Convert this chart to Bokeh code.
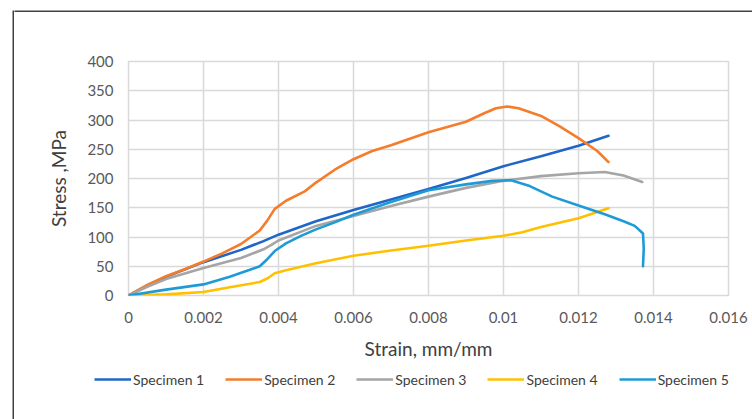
from bokeh.plotting import figure
from bokeh.models import (FixedTicker, CustomJSTickFormatter, Legend, LegendItem, Range1d,
                          Spacer)
from bokeh.layouts import column, row
from bokeh.embed import file_html
from bokeh.resources import INLINE

# ---- data ----
strain1 = [0, 0.0005, 0.001, 0.002, 0.003, 0.0036, 0.004, 0.005, 0.006, 0.007, 0.008,
           0.009, 0.01, 0.011, 0.012, 0.0128]
stress1 = [0, 17, 32, 57, 78, 93, 104, 127, 146, 164, 182, 201, 221, 238, 256, 273]

strain2 = [0, 0.0005, 0.001, 0.0015, 0.002, 0.0025, 0.003, 0.0035, 0.0037, 0.0039,
           0.0042, 0.0047, 0.005, 0.0055, 0.006, 0.0065, 0.007, 0.008, 0.009, 0.0095,
           0.0098, 0.0101, 0.0104, 0.011, 0.0115, 0.012, 0.0125, 0.0128]
stress2 = [0, 18, 33, 45, 58, 72, 88, 111, 128, 148, 162, 178, 193, 215, 233, 247,
           257, 279, 297, 312, 320, 323, 320, 307, 289, 269, 247, 228]

strain3 = [0, 0.0005, 0.001, 0.002, 0.003, 0.0036, 0.0038, 0.004, 0.005, 0.006, 0.007,
           0.008, 0.009, 0.01, 0.011, 0.012, 0.0127, 0.0132, 0.0137]
stress3 = [0, 15, 28, 47, 64, 79, 86, 94, 119, 136, 153, 169, 184, 196, 204, 209, 211,
           205, 194]

strain4 = [0, 0.001, 0.002, 0.0027, 0.0035, 0.0037, 0.0039, 0.0042, 0.005, 0.006, 0.007,
           0.008, 0.009, 0.01, 0.0105, 0.011, 0.012, 0.0128]
stress4 = [0, 2, 6, 14, 23, 29, 38, 43, 55, 68, 77, 85, 94, 102, 108, 117, 132, 149]

strain5 = [0, 0.001, 0.002, 0.0027, 0.0035, 0.0037, 0.0039, 0.0042, 0.0046, 0.005,
           0.0055, 0.006, 0.007, 0.008, 0.009, 0.0097, 0.0102, 0.0107, 0.0113, 0.012,
           0.0127, 0.0132, 0.0135, 0.01372, 0.01374, 0.01372]
stress5 = [0, 10, 19, 32, 50, 62, 76, 89, 102, 113, 125, 138, 160, 180, 190, 196, 197,
           187, 169, 154, 139, 127, 119, 106, 80, 50]

series_names = ["Specimen 1", "Specimen 2", "Specimen 3", "Specimen 4", "Specimen 5"]
series_colors = ["#1F66C8", "#F57C2A", "#A5A5A5", "#FFC000", "#1E9BD7"]

x_ticks = [0, 0.002, 0.004, 0.006, 0.008, 0.01, 0.012, 0.014, 0.016]
y_ticks = [0, 50, 100, 150, 200, 250, 300, 350, 400]

FONT = "Lato"
FRAME_COLOR = "#404040"


def band(w, h, top_white=0, **kw):
    """Plain figure: white border of top_white px above a dark frame (outer chart border)."""
    s = figure(width=w, height=h, output_backend="svg", toolbar_location=None,
               title=None, x_axis_type=None, y_axis_type=None, min_border=0,
               min_border_top=top_white, frame_align=False, **kw)
    s.background_fill_color = FRAME_COLOR
    s.border_fill_color = "white"
    s.outline_line_color = None
    s.grid.visible = False
    return s


# ---- main chart ----
p = figure(width=738, height=350, output_backend="svg", toolbar_location=None,
           x_range=Range1d(0, 0.016), y_range=Range1d(0, 400), frame_align=False,
           min_border_left=114, min_border_right=24, min_border_top=49,
           min_border_bottom=67)
p.background_fill_color = "white"
p.border_fill_color = "white"
p.outline_line_color = "#D9D9D9"
p.outline_line_width = 1.5

for ax in (p.xaxis[0], p.yaxis[0]):
    ax.axis_line_color = None
    ax.major_tick_line_color = None
    ax.minor_tick_line_color = None
    ax.major_tick_out = 0
    ax.major_tick_in = 0
    ax.minor_tick_out = 0
    ax.minor_tick_in = 0
    ax.major_label_text_font = FONT
    ax.major_label_text_font_size = "15px"
    ax.major_label_text_color = "#595959"
    ax.axis_label_text_font = FONT
    ax.axis_label_text_font_size = "19px"
    ax.axis_label_text_font_style = "normal"
    ax.axis_label_text_color = "#404040"

p.xaxis.ticker = FixedTicker(ticks=x_ticks)
p.yaxis.ticker = FixedTicker(ticks=y_ticks)
p.xaxis.formatter = CustomJSTickFormatter(code="return String(Number(tick.toFixed(3)));")
p.xaxis.axis_label = "Strain, mm/mm"
p.yaxis.axis_label = "Stress ,MPa"
p.xaxis.major_label_standoff = 16
p.yaxis.major_label_standoff = 15
p.xaxis.axis_label_standoff = 11
p.yaxis.axis_label_standoff = 14

p.xgrid.grid_line_color = "#D9D9D9"
p.ygrid.grid_line_color = "#D9D9D9"
p.xgrid.grid_line_width = 1.5
p.ygrid.grid_line_width = 1.5

xs = [strain1, strain2, strain3, strain4, strain5]
ys = [stress1, stress2, stress3, stress4, stress5]
for x, y, c in zip(xs, ys, series_colors):
    p.line(x, y, line_color=c, line_width=2.6, line_join="round", line_cap="round")

# ---- legend strip below the chart (its lines sit outside its visible ranges) ----
leg = figure(width=738, height=57, output_backend="svg", toolbar_location=None,
             title=None, x_axis_type=None, y_axis_type=None, min_border=0,
             frame_align=False, x_range=Range1d(1, 2), y_range=Range1d(1000, 1001))
leg.background_fill_color = "white"
leg.border_fill_color = "white"
leg.outline_line_color = None
leg.grid.visible = False
items = []
for x, y, name, c in zip(xs, ys, series_names, series_colors):
    r = leg.line(x, y, line_color=c, line_width=2.6)
    items.append(LegendItem(label=name, renderers=[r]))
legend = Legend(items=items, orientation="horizontal", location=(80, 30),
                label_text_font=FONT, label_text_font_size="14px",
                label_text_color="#404040", glyph_width=37, glyph_height=20,
                label_height=20, label_standoff=2, spacing=21, padding=0, margin=0,
                border_line_color=None, background_fill_alpha=0)
leg.add_layout(legend, "center")

layout = row(
    Spacer(width=12, height=419),
    band(2, 419, top_white=10),
    column(band(738, 12, top_white=10), p, leg),
)

open("out.html", "w").write(file_html(layout, INLINE))
